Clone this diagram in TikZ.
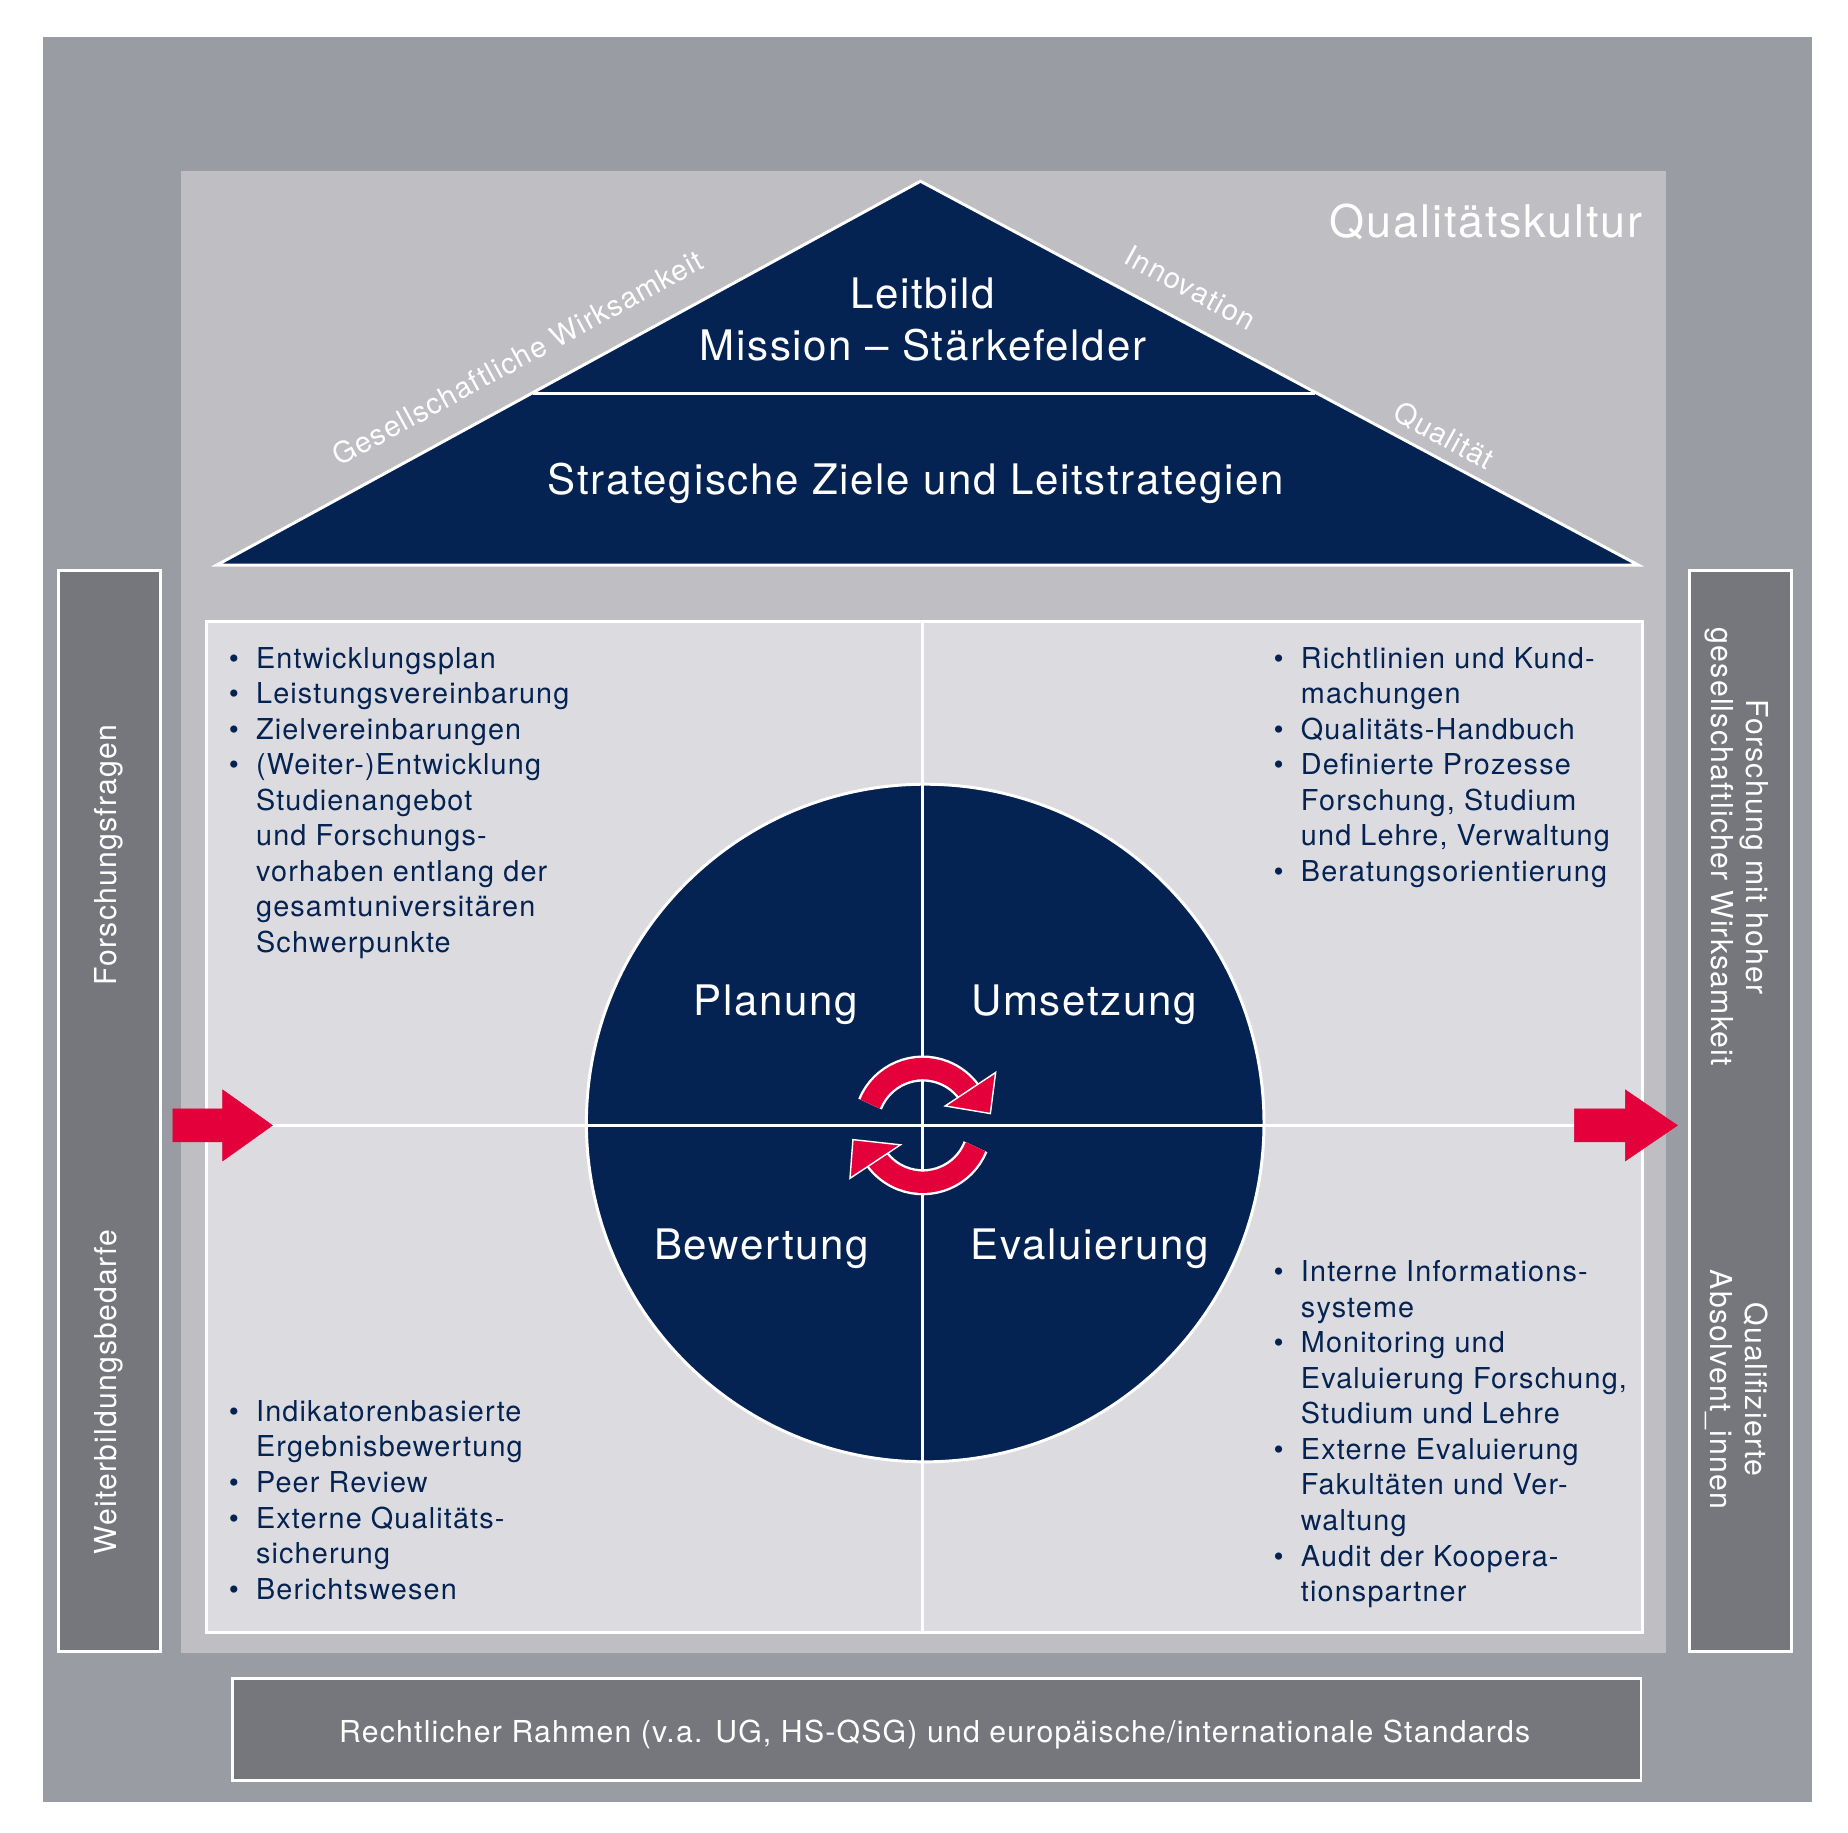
\documentclass[tikz,border=0pt]{standalone}
\usepackage{fontspec}
\setmainfont{TeX Gyre Heros}[LetterSpace=4]
\usetikzlibrary{arrows.meta}
\definecolor{outerg}{HTML}{9A9CA3}
\definecolor{innerg}{HTML}{BEBEC3}
\definecolor{panel}{HTML}{DCDCE0}
\definecolor{navy}{HTML}{052352}
\definecolor{barg}{HTML}{76777D}
\definecolor{red1}{HTML}{E4003A}
\newcommand{\bi}{\makebox[23pt][l]{\textbullet}}
\newcommand{\ci}{\hspace*{23pt}}
\begin{document}
\begin{tikzpicture}[x=1pt,y=-1pt,
  wl/.style={draw=white,line width=2.5pt},
  lst/.style={align=left,anchor=north west,inner sep=0pt,text=navy,font=\fontsize{24.3}{30}\selectfont},
  big/.style={text=white,font=\fontsize{35.5}{43}\selectfont},
  side/.style={text=white,font=\fontsize{25.5}{30}\selectfont,align=center},
  diag/.style={text=white,font=\fontsize{24.5}{28}\selectfont},
  redarr/.style={fill=red1,draw=white,line width=1.2pt}]
\useasboundingbox (0,0) rectangle (1560,1546.5);
\fill[white] (0,0) rectangle (1560,1546.5);
\node[fill=outerg,minimum width=1493,minimum height=1490,inner sep=0,anchor=north west] (outer) at (36,31) {};
\node[fill=innerg,minimum width=1253,minimum height=1251,inner sep=0,anchor=north west] (inner) at (153,144) {};
% roof
\coordinate (apex) at (777,153);
\coordinate (bl) at (183,477);
\coordinate (br) at (1383,477);
\filldraw[fill=navy,wl] (apex) -- (br) -- (bl) -- cycle;
\coordinate (ml) at (450,332);
\coordinate (mr) at (1110,332);
\draw[wl] (ml) -- (mr);
\node[big] (leit) at (779,248) {Leitbild};
\node[big] (mission) at (779,291) {Mission – Stärkefelder};
\node[big] (strat) at (773,408) {Strategische Ziele und Leitstrategien};
\node[text=white,font=\fontsize{38}{44}\selectfont,anchor=east] (qk) at (1390,187) {Qualitätskultur};
\node[diag,rotate=28.6] (gw) at (437,302) {Gesellschaftliche Wirksamkeit};
\node[diag,rotate=-28.6] (inn) at (1005,243) {Innovation};
\node[diag,rotate=-28.6] (qual) at (1219,368) {Qualität};
% panel
\node[fill=panel,wl,minimum width=1212,minimum height=854,inner sep=0,anchor=north west] (panel) at (173,523) {};
\coordinate (vt) at (779,523);
\coordinate (vb) at (779,1377);
\draw[wl] (vt) -- (vb);
\coordinate (hl) at (225,950);
\coordinate (hr) at (1335,950);
\draw[wl] (hl) -- (hr);
% circle
\node[circle,fill=navy,wl,minimum size=572,inner sep=0] (circ) at (781,948) {};
\coordinate (ct) at (779,662);
\coordinate (cb) at (779,1234);
\coordinate (cl) at (495,950);
\coordinate (cr) at (1067,950);
\draw[wl] (ct) -- (cb);
\draw[wl] (cl) -- (cr);
\node[big] (plan) at (655,848) {Planung};
\node[big] (ums) at (915,848) {Umsetzung};
\node[big] (bew) at (643,1054) {Bewertung};
\node[big] (eva) at (920,1054) {Evaluierung};
% circular arrows
\coordinate (c0) at (779,950);
\foreach \w/\c in {22/white,18/red1}{
  \draw[\c,line width=\w pt] (c0) ++(-158:48) arc[start angle=-158,end angle=-35,radius=48];
  \draw[\c,line width=\w pt] (c0) ++(22:48) arc[start angle=22,end angle=145,radius=48];
}
\path (c0) ++(-41:25) coordinate (h1a) (c0) ++(-36:76) coordinate (h1b);
\filldraw[redarr] (h1a) -- (h1b) -- (836,940) -- cycle;
\path (c0) ++(139:25) coordinate (h2a) (c0) ++(144:76) coordinate (h2b);
\filldraw[redarr] (h2a) -- (h2b) -- (720,962) -- cycle;
% lists
\node[lst] (l1) at (193,546) {\bi Entwicklungsplan\\ \bi Leistungsvereinbarung\\ \bi Zielvereinbarungen\\ \bi (Weiter-)Entwicklung\\ \ci Studienangebot\\ \ci und Forschungs-\\ \ci vorhaben entlang der\\ \ci gesamtuniversitären\\ \ci Schwerpunkte};
\node[lst] (l2) at (1075,546) {\bi Richtlinien und Kund-\\ \ci machungen\\ \bi Qualitäts-Handbuch\\ \bi Definierte Prozesse\\ \ci Forschung, Studium\\ \ci und Lehre, Verwaltung\\ \bi Beratungsorientierung};
\node[lst] (l3) at (193,1182) {\bi Indikatorenbasierte\\ \ci Ergebnisbewertung\\ \bi Peer Review\\ \bi Externe Qualitäts-\\ \ci sicherung\\ \bi Berichtswesen};
\node[lst] (l4) at (1075,1064) {\bi Interne Informations-\\ \ci systeme\\ \bi Monitoring und\\ \ci Evaluierung Forschung,\\ \ci Studium und Lehre\\ \bi Externe Evaluierung\\ \ci Fakultäten und Ver-\\ \ci waltung\\ \bi Audit der Koopera-\\ \ci tionspartner};
% side bars
\node[fill=barg,wl,minimum width=86,minimum height=913,inner sep=0,anchor=north west] (lbar) at (48,480) {};
\node[fill=barg,wl,minimum width=86,minimum height=913,inner sep=0,anchor=north west] (rbar) at (1425,480) {};
\node[side,rotate=90] (ff) at (92,722) {Forschungsfragen};
\node[side,rotate=90] (wb) at (92,1175) {Weiterbildungsbedarfe};
\node[side,rotate=-90] (fh) at (1466,715) {Forschung mit hoher\\gesellschaftlicher Wirksamkeit};
\node[side,rotate=-90] (qa) at (1466,1173) {Qualifizierte\\Absolvent\_innen};
% red arrows
\filldraw[red1] (146,936) -- (188,936) -- (188,920) -- (230,950) -- (188,980) -- (188,964) -- (146,964) -- cycle;
\filldraw[red1] (1329,936) -- (1372,936) -- (1372,920) -- (1416,950) -- (1372,980) -- (1372,964) -- (1329,964) -- cycle;
% bottom
\node[fill=barg,wl,minimum width=1189,minimum height=86,inner sep=0,anchor=north west] (bottom) at (195,1416) {};
\node[side] (bt) at (789,1464) {Rechtlicher Rahmen (v.a. UG, HS-QSG) und europäische/internationale Standards};
\end{tikzpicture}
\end{document}
